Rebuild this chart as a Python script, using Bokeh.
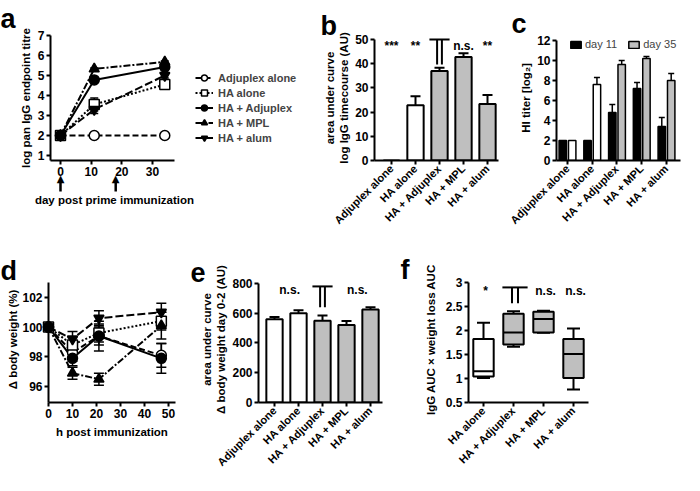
import math
from bokeh.plotting import figure
from bokeh.layouts import row, column
from bokeh.models import (Range1d, FixedTicker, Legend, LegendItem,
                          TeeHead, Whisker, ColumnDataSource)
from bokeh.core.properties import value
from bokeh.embed import file_html
from bokeh.resources import INLINE

FONT = "Liberation Sans"
GRAY = "#bfbfbf"

# ---------------- data ----------------
groups = ["Adjuplex alone", "HA alone", "HA + Adjuplex", "HA + MPL", "HA + alum"]

# panel a: log pan IgG endpoint titre
a_days = [0, 11, 34]
a_boost_days = [0, 18]
a_adjuplex_alone = [2.0, 2.0, 2.0]
a_adjuplex_alone_err = [0.0, 0.0, 0.0]
a_ha_alone = [2.0, 3.55, 4.55]
a_ha_alone_err = [0.0, 0.32, 0.1]
a_ha_adjuplex = [2.0, 4.78, 5.42]
a_ha_adjuplex_err = [0.0, 0.08, 0.1]
a_ha_mpl = [2.0, 5.33, 5.68]
a_ha_mpl_err = [0.0, 0.05, 0.05]
a_ha_alum = [2.0, 3.3, 5.0]
a_ha_alum_err = [0.0, 0.2, 0.12]

# panel b: AUC IgG timecourse
b_auc = [0.0, 22.8, 37.0, 42.8, 23.3]
b_auc_err = [0.0, 3.7, 1.3, 1.5, 3.8]
b_colors = ["white", "white", GRAY, GRAY, GRAY]
b_sig = ["***", "**", "", "n.s.", "**"]
b_ref_group = 2

# panel c: HI titer
c_day11 = [2.0, 2.0, 4.8, 7.2, 3.4]
c_day11_err = [0.0, 0.0, 0.8, 0.6, 0.9]
c_day35 = [2.0, 7.6, 9.6, 10.2, 8.0]
c_day35_err = [0.0, 0.7, 0.4, 0.2, 0.7]
c_day35_colors = ["white", "white", GRAY, GRAY, GRAY]

# panel d: body weight
d_hours = [0, 10, 21, 47]
d_adjuplex_alone = [100.0, 98.3, 99.4, 98.1]
d_adjuplex_alone_err = [0.0, 0.6, 0.6, 0.8]
d_ha_alone = [100.0, 98.8, 99.6, 100.4]
d_ha_alone_err = [0.0, 0.5, 0.6, 0.6]
d_ha_adjuplex = [100.0, 97.9, 99.4, 97.9]
d_ha_adjuplex_err = [0.0, 0.5, 1.0, 1.0]
d_ha_mpl = [100.0, 96.9, 96.5, 100.1]
d_ha_mpl_err = [0.0, 0.4, 0.4, 0.9]
d_ha_alum = [100.0, 99.2, 100.6, 101.0]
d_ha_alum_err = [0.0, 0.5, 0.5, 0.6]

# panel e: AUC body weight
e_auc = [560.0, 600.0, 550.0, 520.0, 625.0]
e_auc_err = [15.0, 20.0, 35.0, 28.0, 15.0]
e_colors = ["white", "white", GRAY, GRAY, GRAY]
e_sig = ["n.s.", "n.s."]
e_sig_x = [0.63, 3.45]
e_ref_group = 2

# panel f: IgG AUC x weight loss AUC (box plots)
f_groups = ["HA alone", "HA + Adjuplex", "HA + MPL", "HA + alum"]
f_min = [1.01, 1.66, 1.95, 0.77]
f_q1 = [1.04, 1.71, 1.96, 1.01]
f_median = [1.15, 1.96, 2.24, 1.51]
f_q3 = [1.82, 2.35, 2.39, 1.82]
f_max = [2.16, 2.40, 2.41, 2.04]
f_colors = ["white", GRAY, GRAY, GRAY]
f_sig = ["*", "", "n.s.", "n.s."]
f_ref_group = 1

styles = [("circle", "white", "6 3"),
          ("square", "white", "2 2"),
          ("circle", "black", "solid"),
          ("triangle", "black", "7 2 2 2"),
          ("inverted_triangle", "black", "8 3")]


# ---------------- helpers ----------------
def make_fig(g):
    p = figure(width=g["w"], height=g["h"],
               x_range=Range1d(*g["xr"]), y_range=Range1d(*g["yr"]),
               output_backend="svg", toolbar_location=None, tools="",
               min_border_left=g["l"], min_border_right=g["r"],
               min_border_top=g["t"], min_border_bottom=g["b"])
    p.outline_line_color = None
    p.xgrid.visible = False
    p.ygrid.visible = False
    p.background_fill_color = "white"
    p.border_fill_color = "white"
    for ax in (p.xaxis[0], p.yaxis[0]):
        ax.axis_line_width = 2
        ax.axis_line_color = "black"
        ax.major_tick_line_width = 2
        ax.major_tick_line_color = "black"
        ax.major_tick_in = 0
        ax.major_tick_out = 4
        ax.minor_tick_line_color = None
        ax.major_label_text_font = FONT
        ax.major_label_text_font_style = "bold"
        ax.major_label_text_font_size = "12px"
        ax.major_label_text_color = "black"
        ax.major_label_standoff = 2
        ax.axis_label_text_font = FONT
        ax.axis_label_text_font_style = "bold"
        ax.axis_label_text_font_size = "11.5px"
        ax.axis_label_text_color = "black"
    return p


def to_data(g, fx, fy):
    fl, fr = g["l"], g["w"] - g["r"]
    ft, fb = g["t"], g["h"] - g["b"]
    x0, x1 = g["xr"]
    y0, y1 = g["yr"]
    return (x0 + (fx - fl) / (fr - fl) * (x1 - x0),
            y0 + (fb - fy) / (fb - ft) * (y1 - y0))


def free_text(p, g, text, fx, fy, size, font=FONT, style="bold", align="left",
              baseline="alphabetic"):
    x, y = to_data(g, fx, fy)
    p.text(x=[x], y=[y], text=[text], text_font=value(font), text_font_style=style,
           text_font_size=size, text_baseline=baseline, text_align=align,
           text_color="black", level="overlay")


def letter(p, g, text, fx, fy):
    free_text(p, g, text, fx, fy, "27px")


def category_axis(p, names, size="11px"):
    p.xaxis.ticker = FixedTicker(ticks=list(range(len(names))))
    p.xaxis.major_label_overrides = {i: n for i, n in enumerate(names)}
    p.xaxis.major_label_orientation = math.pi / 4
    p.xaxis.major_label_text_font_size = size


def up_whisker(p, xs, tops, errs, head, lw):
    xx = [x for x, e in zip(xs, errs) if e > 0]
    lo = [t for t, e in zip(tops, errs) if e > 0]
    hi = [t + e for t, e in zip(tops, errs) if e > 0]
    src = ColumnDataSource(dict(base=xx, lower=lo, upper=hi))
    p.add_layout(Whisker(source=src, base="base", lower="lower", upper="upper",
                         dimension="height", line_width=lw, line_color="black",
                         lower_head=None,
                         upper_head=TeeHead(size=head, line_width=lw, line_color="black")))


def both_whisker(p, xs, vals, errs, head, lw):
    xx = [x for x, e in zip(xs, errs) if e > 0]
    lo = [v - e for v, e in zip(vals, errs) if e > 0]
    hi = [v + e for v, e in zip(vals, errs) if e > 0]
    src = ColumnDataSource(dict(base=xx, lower=lo, upper=hi))
    p.add_layout(Whisker(source=src, base="base", lower="lower", upper="upper",
                         dimension="height", line_width=lw, line_color="black",
                         lower_head=TeeHead(size=head, line_width=lw, line_color="black"),
                         upper_head=TeeHead(size=head, line_width=lw, line_color="black")))


def bracket(p, g, xc, fy_top, fy_bottom):
    _, yt = to_data(g, 0, fy_top)
    _, yb = to_data(g, 0, fy_bottom)
    p.segment(x0=[xc - 0.42], y0=[yt], x1=[xc + 0.42], y1=[yt], line_color="black",
              line_width=2, level="overlay")
    p.segment(x0=[xc - 0.1, xc + 0.1], y0=[yt, yt], x1=[xc - 0.1, xc + 0.1], y1=[yb, yb],
              line_color="black", line_width=2, level="overlay")


def sig_text(p, xs, ys, texts, size="12px"):
    p.text(x=xs, y=ys, text=texts, text_font=value(FONT), text_font_style="bold",
           text_font_size=size, text_align="center", text_baseline="alphabetic",
           text_color="black", level="overlay")


idx = list(range(len(groups)))

# ---------------- panel a ----------------
gA = dict(w=310, h=238, l=50, r=2, t=35, b=78, xr=(-3.26, 80.86), yr=(0.75, 7.0))
pA = make_fig(gA)
pA.xaxis.ticker = FixedTicker(ticks=[0, 10, 20, 30])
pA.xaxis.bounds = (-3.26, 37.17)
pA.yaxis.ticker = FixedTicker(ticks=[1, 2, 3, 4, 5, 6, 7])
pA.yaxis.axis_label = "log pan IgG endpoint titre"
pA.yaxis.axis_label_standoff = 3
a_series = [(a_adjuplex_alone, a_adjuplex_alone_err), (a_ha_alone, a_ha_alone_err),
            (a_ha_adjuplex, a_ha_adjuplex_err), (a_ha_mpl, a_ha_mpl_err),
            (a_ha_alum, a_ha_alum_err)]
a_items = []
for name, (vals, errs), (marker, fill, dash) in zip(groups, a_series, styles):
    ln = pA.line(a_days, vals, line_color="black", line_width=2, line_dash=dash)
    both_whisker(pA, a_days, vals, errs, 8, 1.5)
    sc = pA.scatter(a_days, vals, marker=marker, size=10, fill_color=fill,
                    line_color="black", line_width=1.5)
    a_items.append(LegendItem(label=name, renderers=[ln, sc]))
legA = Legend(items=a_items, location=(145, 15), glyph_width=18, glyph_height=15,
              label_height=15, spacing=0, padding=0, margin=0, label_standoff=5,
              border_line_color=None, background_fill_alpha=0,
              label_text_font=FONT, label_text_font_style="bold", label_text_font_size="11px")
pA.add_layout(legA)
# x-axis title (centred under the bounded day axis)
free_text(pA, gA, "day post prime immunization", 114, 199, "11.5px", align="center")
# immunization arrows below the day axis
_, ya_tail = to_data(gA, 0, 191)
_, ya_base = to_data(gA, 0, 181)
_, ya_tip = to_data(gA, 0, 178)
pA.segment(x0=a_boost_days, y0=[ya_tail] * len(a_boost_days), x1=a_boost_days,
           y1=[ya_base] * len(a_boost_days), line_color="black", line_width=2.5, level="overlay")
pA.text(x=a_boost_days, y=[ya_tip] * len(a_boost_days), text=["\u25b2"] * len(a_boost_days),
        text_font=value("DejaVu Sans"), text_font_size="10px", text_align="center",
        text_baseline="middle", text_color="black", level="overlay")
letter(pA, gA, "a", 0, 18)

# ---------------- panel b ----------------
gB = dict(w=194, h=238, l=64, r=6, t=35, b=78, xr=(-0.708, 4.458), yr=(0, 51.65))
pB = make_fig(gB)
pB.yaxis.ticker = FixedTicker(ticks=[0, 10, 20, 30, 40, 50])
pB.yaxis.bounds = (0, 50)
pB.yaxis.axis_label = "area under curve\nlog IgG timecourse (AU)"
pB.yaxis.axis_label_standoff = 2
category_axis(pB, groups)
up_whisker(pB, idx, b_auc, b_auc_err, 10, 2)
pB.vbar(x=idx, top=b_auc, bottom=0, width=0.68, fill_color=b_colors,
        line_color="black", line_width=2)
_, yb_sig = to_data(gB, 0, 45)
sig_idx = [i for i, s in enumerate(b_sig) if s]
sig_text(pB, sig_idx, [yb_sig] * len(sig_idx), [b_sig[i] for i in sig_idx])
bracket(pB, gB, b_ref_group, 39, 64)
letter(pB, gB, "b", 10, 25)

# ---------------- panel c ----------------
gC = dict(w=180, h=238, l=52, r=4, t=35, b=78, xr=(-0.444, 4.566), yr=(0, 12.5))
pC = make_fig(gC)
pC.yaxis.ticker = FixedTicker(ticks=[0, 2, 4, 6, 8, 10, 12])
pC.yaxis.bounds = (0, 12)
pC.yaxis.axis_label = "HI titer [log\u2082]"
pC.yaxis.axis_label_standoff = 2
category_axis(pC, groups)
x11 = [i - 0.19 for i in idx]
x35 = [i + 0.19 for i in idx]
up_whisker(pC, x11, c_day11, c_day11_err, 6, 1.5)
up_whisker(pC, x35, c_day35, c_day35_err, 6, 1.5)
r11 = pC.vbar(x=x11, top=c_day11, bottom=0, width=0.3, fill_color="black",
              line_color="black", line_width=1.5)
r35 = pC.vbar(x=x35, top=c_day35, bottom=0, width=0.3, fill_color=c_day35_colors,
              line_color="black", line_width=1.5)
legC = Legend(items=[LegendItem(label="day 11", renderers=[r11], index=2),
                     LegendItem(label="day 35", renderers=[r35], index=2)],
              orientation="horizontal", location=(13, 110), glyph_width=13, glyph_height=9,
              label_height=12, label_standoff=3, spacing=10, padding=0, margin=0,
              border_line_color=None, background_fill_alpha=0,
              label_text_font=FONT, label_text_font_size="11px")
pC.add_layout(legC)
letter(pC, gC, "c", 7, 23)

# ---------------- panel d ----------------
gD = dict(w=182, h=237, l=48, r=7, t=38, b=72, xr=(0, 52.9), yr=(94.933, 103.4))
pD = make_fig(gD)
pD.xaxis.ticker = FixedTicker(ticks=[0, 10, 20, 30, 40, 50])
pD.yaxis.ticker = FixedTicker(ticks=[96, 98, 100, 102])
pD.yaxis.bounds = (94.933, 103)
pD.xaxis.axis_label = "h post immunization"
pD.yaxis.axis_label = "\u0394 body weight (%)"
pD.xaxis.axis_label_standoff = 5
pD.yaxis.axis_label_standoff = 0
d_series = [(d_adjuplex_alone, d_adjuplex_alone_err), (d_ha_alone, d_ha_alone_err),
            (d_ha_adjuplex, d_ha_adjuplex_err), (d_ha_mpl, d_ha_mpl_err),
            (d_ha_alum, d_ha_alum_err)]
for (vals, errs), (marker, fill, dash) in zip(d_series, styles):
    pD.line(d_hours, vals, line_color="black", line_width=2, line_dash=dash)
    both_whisker(pD, d_hours, vals, errs, 10, 1.5)
    pD.scatter(d_hours, vals, marker=marker, size=10, fill_color=fill,
               line_color="black", line_width=1.5, level="overlay")
letter(pD, gD, "d", 0, 32)

# ---------------- panel e ----------------
gE = dict(w=213, h=237, l=76, r=13, t=38, b=72, xr=(-0.667, 4.5), yr=(0, 846.7))
pE = make_fig(gE)
pE.yaxis.ticker = FixedTicker(ticks=[0, 200, 400, 600, 800])
pE.yaxis.bounds = (0, 800)
pE.yaxis.axis_label = "area under curve\n\u0394 body weight day 0-2 (AU)"
pE.yaxis.axis_label_standoff = 2
category_axis(pE, groups)
up_whisker(pE, idx, e_auc, e_auc_err, 10, 2)
pE.vbar(x=idx, top=e_auc, bottom=0, width=0.68, fill_color=e_colors,
        line_color="black", line_width=2)
_, ye_sig = to_data(gE, 0, 52)
sig_text(pE, e_sig_x, [ye_sig] * len(e_sig_x), e_sig)
bracket(pE, gE, e_ref_group, 48, 69)
letter(pE, gE, "e", 8, 34)

# ---------------- panel f ----------------
gF = dict(w=289, h=237, l=73, r=96, t=38, b=72, xr=(-0.5, 3.5), yr=(0.5, 3.124))
pF = make_fig(gF)
pF.yaxis.ticker = FixedTicker(ticks=[0.5, 1.0, 1.5, 2.0, 2.5, 3.0])
pF.yaxis.bounds = (0.5, 3.0)
pF.yaxis.axis_label = "IgG AUC \u00d7 weight loss AUC"
pF.yaxis.axis_label_standoff = 6
fidx = list(range(len(f_groups)))
category_axis(pF, f_groups)
up_whisker(pF, fidx, f_q3, [mx - q for mx, q in zip(f_max, f_q3)], 13, 2)
src_low = ColumnDataSource(dict(base=fidx, lower=f_min, upper=f_q1))
pF.add_layout(Whisker(source=src_low, base="base", lower="lower", upper="upper",
                      dimension="height", line_width=2, line_color="black", upper_head=None,
                      lower_head=TeeHead(size=13, line_width=2, line_color="black")))
pF.vbar(x=fidx, bottom=f_q1, top=f_q3, width=0.68, fill_color=f_colors,
        line_color="black", line_width=2)
pF.segment(x0=[i - 0.34 for i in fidx], y0=f_median, x1=[i + 0.34 for i in fidx], y1=f_median,
           line_color="black", line_width=2)
_, yf_sig = to_data(gF, 0, 53)
fs_idx = [i for i, s in enumerate(f_sig) if s]
sig_text(pF, [i + 0.07 for i in fs_idx], [yf_sig] * len(fs_idx), [f_sig[i] for i in fs_idx])
bracket(pF, gF, f_ref_group + 0.05, 49, 65)
letter(pF, gF, "f", 5, 31)

layout = column(row(pA, pB, pC), row(pD, pE, pF))
open("out.html", "w").write(file_html(layout, INLINE))
